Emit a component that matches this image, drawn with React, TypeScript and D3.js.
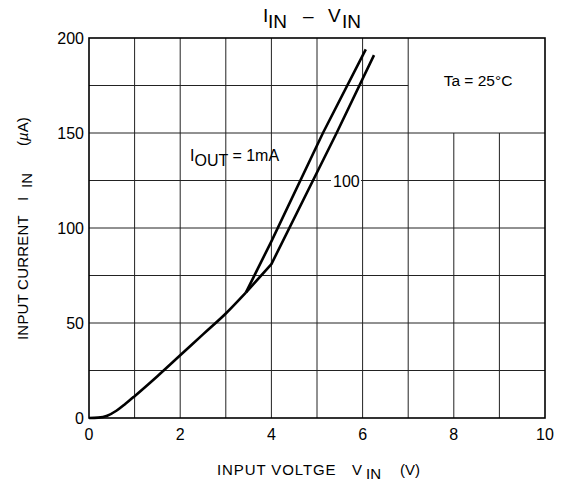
import React, { useEffect, useRef } from "react";
import * as d3 from "d3";

// (V, µA)
const commonV = [0, 0.2, 0.4, 0.6, 0.8, 1.0, 1.5, 2.0, 2.5, 3.0, 3.44];
const commonI = [0, 0.2, 1.2, 3.8, 7.5, 11.5, 22, 33, 44, 55, 66];
const oneMaV = [3.44, 4.0, 5.13, 6.07];
const oneMaI = [66, 93, 150, 194];
const hundredMaV = [3.44, 4.0, 5.43, 6.25];
const hundredMaI = [66, 81, 150, 191];

const xTicks = [0, 2, 4, 6, 8, 10];
const yTicks = [0, 50, 100, 150, 200];

const W = 567;
const H = 486;
const margin = { left: 89, right: 22, top: 38, bottom: 68 };
const FONT = "'Liberation Sans', Arial, sans-serif";

export default function App() {
  const ref = useRef<SVGSVGElement>(null);

  useEffect(() => {
    const svg = d3.select(ref.current);
    svg.selectAll("*").remove();

    const x = d3.scaleLinear().domain([0, 10]).range([margin.left, W - margin.right]);
    const y = d3.scaleLinear().domain([0, 200]).range([H - margin.bottom, margin.top]);

    const g = svg.append("g");

    // grid; the Ta box (7..10 V, 150..200 µA) has no grid inside
    d3.range(1, 10).forEach((v) => {
      const top = v > 7 ? 150 : 200;
      g.append("line")
        .attr("x1", x(v)).attr("x2", x(v))
        .attr("y1", y(0)).attr("y2", y(top))
        .attr("stroke", "#222").attr("stroke-width", 1);
    });
    d3.range(25, 200, 25).forEach((i) => {
      const right = i > 150 ? 7 : 10;
      g.append("line")
        .attr("x1", x(0)).attr("x2", x(right))
        .attr("y1", y(i)).attr("y2", y(i))
        .attr("stroke", "#222").attr("stroke-width", 1);
    });

    // frame
    g.append("rect")
      .attr("x", x(0)).attr("y", y(200))
      .attr("width", x(10) - x(0)).attr("height", y(0) - y(200))
      .attr("fill", "none").attr("stroke", "#000").attr("stroke-width", 1.6);

    // tick labels
    g.selectAll(".xt").data(xTicks).enter().append("text")
      .attr("x", (d) => x(d)).attr("y", y(0) + 22)
      .attr("text-anchor", "middle")
      .style("font-family", FONT).style("font-size", 16)
      .text((d) => d);
    g.selectAll(".yt").data(yTicks).enter().append("text")
      .attr("x", x(0) - 5).attr("y", (d) => y(d) + 6)
      .attr("text-anchor", "end")
      .style("font-family", FONT).style("font-size", 16)
      .text((d) => d);

    // curves
    const toPts = (vs: number[], is: number[]) => vs.map((v, k) => [v, is[k]] as [number, number]);
    const smooth = d3.line().x((d) => x(d[0])).y((d) => y(d[1])).curve(d3.curveMonotoneX);
    const straight = d3.line().x((d) => x(d[0])).y((d) => y(d[1]));

    [
      { pts: toPts(commonV, commonI), gen: smooth },
      { pts: toPts(oneMaV, oneMaI), gen: straight },
      { pts: toPts(hundredMaV, hundredMaI), gen: straight },
    ].forEach((s) => {
      g.append("path")
        .attr("d", s.gen(s.pts))
        .attr("fill", "none").attr("stroke", "#000")
        .attr("stroke-width", 2.6).attr("stroke-linejoin", "round");
    });

    // title
    const title = svg.append("text")
      .attr("y", 22)
      .style("font-family", FONT).style("font-size", 19);
    title.append("tspan").attr("x", 263).text("I");
    title.append("tspan").attr("x", 268).attr("dy", 6).text("IN");
    title.append("tspan").attr("x", 303).attr("dy", -6).text("–");
    title.append("tspan").attr("x", 328).text("V");
    title.append("tspan").attr("x", 342).attr("dy", 6).text("IN");

    // x label
    const xl = svg.append("text")
      .attr("y", 475)
      .style("font-family", FONT).style("font-size", 15);
    xl.append("tspan").attr("x", 217).style("letter-spacing", "0.9px").text("INPUT VOLTGE");
    xl.append("tspan").attr("x", 352).text("V");
    xl.append("tspan").attr("x", 366).attr("dy", 4).text("IN");
    xl.append("tspan").attr("x", 400).attr("dy", -4).text("(V)");

    // y label (rotated; text x = -page y)
    const yl = svg.append("text")
      .attr("transform", "translate(28,0) rotate(-90)")
      .style("font-family", FONT).style("font-size", 15);
    yl.append("tspan").attr("x", -340).style("letter-spacing", "0.2px").text("INPUT CURRENT");
    yl.append("tspan").attr("x", -201).text("I");
    yl.append("tspan").attr("x", -188).attr("dy", 4).text("IN");
    yl.append("tspan").attr("x", -146).attr("dy", -4).text("(");
    yl.append("tspan").style("font-style", "italic").text("µ");
    yl.append("tspan").text("A)");

    // annotations
    const ann = svg.append("text")
      .attr("x", 190).attr("y", 161)
      .style("font-family", FONT).style("font-size", 16);
    ann.append("tspan").text("I");
    ann.append("tspan").attr("dy", 5).text("OUT");
    ann.append("tspan").attr("dy", -5).text(" = 1mA");

    svg.append("rect")
      .attr("x", 331).attr("y", 173).attr("width", 30).attr("height", 16)
      .attr("fill", "#fff");
    svg.append("text")
      .attr("x", 333).attr("y", 187)
      .style("font-family", FONT).style("font-size", 16)
      .text("100");

    svg.append("text")
      .attr("x", 478).attr("y", 86).attr("text-anchor", "middle")
      .style("font-family", FONT).style("font-size", 15.5)
      .text("Ta = 25°C");
  }, []);

  return <svg ref={ref} width={W} height={H} style={{ display: "block", position: "absolute", left: 0, top: 0, background: "#fff" }} />;
}
